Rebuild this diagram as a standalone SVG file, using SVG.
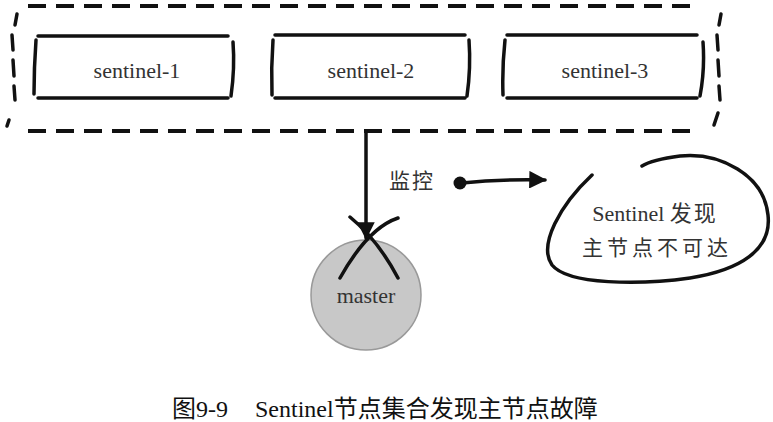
<svg xmlns="http://www.w3.org/2000/svg" width="773" height="422" viewBox="0 0 773 422">
<style>
.dash{fill:none;stroke:#111;stroke-width:4;stroke-dasharray:18,10;stroke-linecap:butt}
.sd{fill:none;stroke:#111;stroke-width:3.5;stroke-linecap:round}
.ln{fill:none;stroke:#111;stroke-width:3.5;stroke-linecap:round}
.lbl{font-family:"Liberation Serif","DejaVu Serif",serif;font-size:22px;fill:#333;text-anchor:middle}
.hand{font-family:"Noto Sans CJK SC",sans-serif;font-size:21px;fill:#333}
</style>
<defs>
<marker id="ah" viewBox="0 0 10 10" refX="9" refY="5" markerWidth="5" markerHeight="5" orient="auto" markerUnits="strokeWidth">
<path d="M0,0 L10,5 L0,10 Z" fill="#111"/>
</marker>
</defs>
<rect width="773" height="422" fill="#fff"/>
<g id="cluster">
<path class="dash" d="M28,6 H697"/>
<path class="dash" d="M28,131 H697"/>
<path class="sd" d="M17,14 L15,25 M12,35 L13,50 M13,60 L14,76 M14,86 L15,100 M9,120 L7,126"/>
<path class="sd" d="M721,14 L719,25 M717,35 L718,50 M718,60 L719,76 M719,86 L720,100 M718,113 L714,125"/>
</g>
<g id="sentinel-1">
<path class="ln" d="M38,36 H228 M38,98 H228 M36,40 Q34,68 34,94 M233,42 Q235,68 231,96"/>
<text class="lbl" x="137" y="78">sentinel-1</text>
</g>
<g id="sentinel-2">
<path class="ln" d="M275,35 H465 M275,98 H465 M273,40 Q271,68 272,95 M469,40 Q471,68 467,96"/>
<text class="lbl" x="371" y="78">sentinel-2</text>
</g>
<g id="sentinel-3">
<path class="ln" d="M507,35 H697 M507,98 H697 M505,40 Q502,68 503,95 M703,42 Q705,70 700,96"/>
<text class="lbl" x="605" y="78">sentinel-3</text>
</g>
<g id="master">
<circle cx="366" cy="295" r="55" fill="#c8c8c8" stroke="#999" stroke-width="1.5"/>
<text class="lbl" x="366" y="303">master</text>
</g>
<g id="connectors">
<path class="ln" d="M366,131 V238" marker-end="url(#ah)"/>
<path class="ln" d="M350,217 Q378,240 398,278"/>
<path class="ln" d="M398,218 Q368,228 340,278"/>
<circle cx="460" cy="183" r="6.5" fill="#111"/>
<path class="ln" d="M462,183 Q500,179 545,180" marker-end="url(#ah)"/>
</g>
<g id="note">
<path class="ln" d="M592,175 C560,205 538,245 552,265 C568,285 640,285 690,278 C740,270 772,250 768,215 C764,175 720,152 680,156 C665,158 650,161 642,166"/>
<text x="655" y="221" text-anchor="middle" font-size="22" fill="#333"><tspan font-family="Liberation Serif,serif">Sentinel </tspan><tspan font-family="Noto Sans CJK SC,sans-serif" letter-spacing="2">发现</tspan></text>
<text class="hand" x="657" y="255" text-anchor="middle" letter-spacing="4">主节点不可达</text>
</g>
<text class="hand" x="389" y="188" font-size="19" letter-spacing="2">监控</text>
<text x="172" y="417" font-family="Liberation Serif,'Noto Sans CJK SC',serif" font-size="24" fill="#111">图9-9<tspan x="255">Sentinel节点集合发现主节点故障</tspan></text>
</svg>
